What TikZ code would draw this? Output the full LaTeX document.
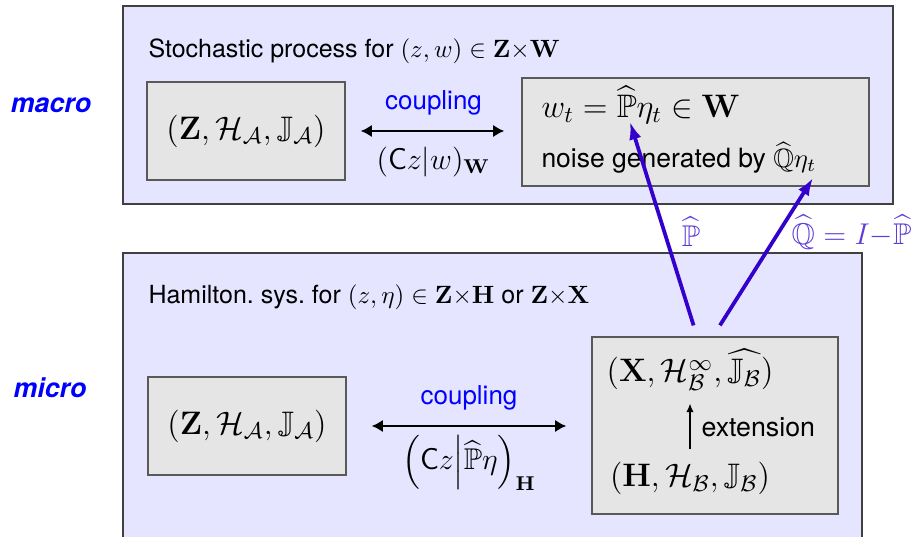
\RequirePackage{fix-cm}
\documentclass[tikz,border=0pt]{standalone}
\usepackage{amsmath,amssymb}
\usepackage[no-math]{fontspec}
\setsansfont{TeX Gyre Heros}
\usetikzlibrary{arrows.meta}

\definecolor{projblue}{RGB}{51,0,204}
\definecolor{projtext}{RGB}{95,60,215}

\tikzset{
  outerbox/.style={draw=black!75, fill=blue!10, line width=0.5pt, inner sep=0pt},
  innerbox/.style={draw=black!65, fill=black!10, line width=0.5pt, inner sep=0pt, font=\fontsize{13}{15}\selectfont},
  bigmath/.style={inner sep=0pt, anchor=base, font=\fontsize{13}{15}\selectfont},
  titletext/.style={inner sep=0pt, anchor=base west, font=\sffamily\fontsize{10}{12}\selectfont},
  levellabel/.style={text=blue, font=\sffamily\bfseries\itshape\fontsize{10.7}{13}\selectfont},
  couplelabel/.style={text=blue, font=\sffamily\fontsize{10.4}{12}\selectfont},
  couplemath/.style={font=\fontsize{12}{14}\selectfont},
  couplearrow/.style={{Latex[length=4.5pt,width=5pt]}-{Latex[length=4.5pt,width=5pt]}, line width=0.9pt},
  projarrow/.style={-{Latex[length=7pt,width=5pt]}, line width=1.5pt, draw=projblue},
  projlabel/.style={text=projtext, font=\fontsize{12}{14}\selectfont},
  extarrow/.style={-{Latex[length=3.5pt,width=3pt]}, line width=0.6pt}
}

\begin{document}
\begin{tikzpicture}[x=0.4pt, y=-0.4pt]
\useasboundingbox (0,0) rectangle (919,537);

% Level boxes
\node[outerbox, minimum width=308pt, minimum height=79.2pt] (macrobox) at (508,105) {};
\node[outerbox, minimum width=295.6pt, minimum height=116.8pt] (microbox) at (492.5,399) {};

\node[levellabel] (macrolbl) at (51,105) {macro};
\node[levellabel] (microlbl) at (50,388) {micro};

\node[titletext] (macrotitle) at (148,58) {Stochastic process for $(z,w)\in\mathbf{Z}{\times}\mathbf{W}$};
\node[titletext] (microtitle) at (148,304) {Hamilton.\ sys.\ for $(z,\eta)\in\mathbf{Z}{\times}\mathbf{H}$ or $\mathbf{Z}{\times}\mathbf{X}$};

% Macro level
\node[innerbox, minimum width=79.2pt, minimum height=39.2pt] (zmacro) at (246,131) {$(\mathbf{Z},\mathcal{H}_{\mathcal{A}},\mathbb{J}_{\mathcal{A}})$};
\node[innerbox, minimum width=138.8pt, minimum height=43.2pt] (wmacro) at (695.5,132) {};
\node[titletext, font=\fontsize{13}{15}\selectfont] (wline) at (541,118) {$w_t=\widehat{\mathbb{P}}\eta_t\in\mathbf{W}$};
\node[titletext, font=\sffamily\fontsize{10.6}{13}\selectfont] (noiseline) at (541,168) {noise generated by $\widehat{\mathbb{Q}}\eta_t$};

\draw[couplearrow, shorten <=6pt, shorten >=6.8pt] (zmacro.east) -- (zmacro.east -| wmacro.west)
  node[midway, above=2.5pt, couplelabel] {coupling}
  node[midway, below=2.5pt, couplemath] {$(\mathsf{C}z|w)_{\mathbf{W}}$};

% Micro level
\node[innerbox, minimum width=79.2pt, minimum height=39.2pt] (zmicro) at (247,426) {$(\mathbf{Z},\mathcal{H}_{\mathcal{A}},\mathbb{J}_{\mathcal{A}})$};
\node[innerbox, minimum width=98.4pt, minimum height=70.8pt] (xmicro) at (715,425.5) {};
\node[bigmath] (xspace) at (690,382) {$(\mathbf{X},\mathcal{H}^{\infty}_{\mathcal{B}},\widehat{\mathbb{J}_{\mathcal{B}}})$};
\node[bigmath] (hspace) at (690,487) {$(\mathbf{H},\mathcal{H}_{\mathcal{B}},\mathbb{J}_{\mathcal{B}})$};

\draw[extarrow, shorten <=5.2pt, shorten >=4.8pt] (hspace.north) -- (xspace.south)
  node[midway, right=1pt, font=\sffamily\fontsize{10.7}{13}\selectfont] {extension};

\draw[couplearrow, shorten <=10pt, shorten >=10pt] (zmicro.east) -- (zmicro.east -| xmicro.west)
  node[midway, above=2.5pt, couplelabel] {coupling}
  node[midway, below=0pt, couplemath] {$\Bigl(\mathsf{C}z\Big|\widehat{\mathbb{P}}\eta\Bigr)_{\mathbf{H}}$};

% Projections
\coordinate (ptip) at (630,122);
\coordinate (qtip) at (813,178);
\draw[projarrow, shorten <=4.6pt] ([xshift=-7.2pt]xmicro.north) -- (ptip)
  node[pos=0.49, right=3pt, projlabel] {$\widehat{\mathbb{P}}$};
\draw[projarrow, shorten <=5.2pt] ([xshift=-0.8pt]xmicro.north) -- (qtip)
  node[pos=0.66, right=1pt, projlabel] {$\widehat{\mathbb{Q}}=I{-}\widehat{\mathbb{P}}$};
\end{tikzpicture}
\end{document}
